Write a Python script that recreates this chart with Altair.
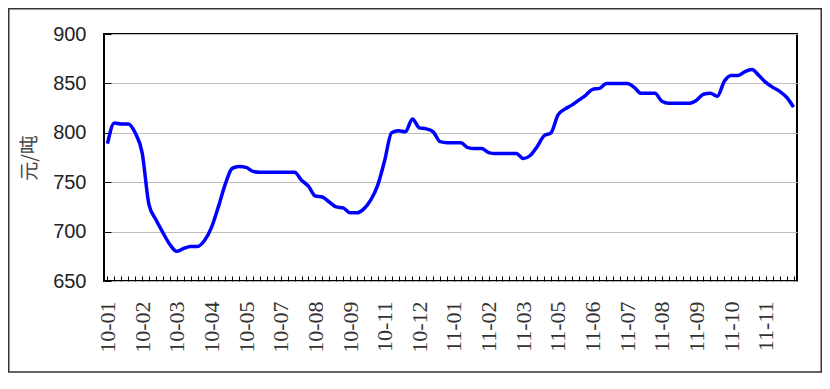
import altair as alt
import pandas as pd

# weekly prices, yuan/tonne (100 weeks, Jan 2010 - Dec 2011)
prices = [
    789, 810, 809, 809, 800, 780, 727, 712, 699, 687,
    680, 683, 685, 685, 691, 704, 725, 748, 764, 766,
    765, 761, 760, 760, 760, 760, 760, 760, 752, 746,
    736, 735, 730, 725, 724, 719, 719, 723, 732, 747,
    772, 800, 802, 801, 814, 805, 804, 801, 791, 790,
    790, 790, 785, 784, 784, 780, 779, 779, 779, 779,
    774, 777, 786, 797, 800, 818, 824, 828, 833, 838,
    844, 845, 850, 850, 850, 850, 846, 840, 840, 840,
    832, 830, 830, 830, 830, 833, 839, 840, 837, 852,
    858, 858, 862, 864, 858, 851, 846, 842, 836, 826,
]
tick_labels = ["10-01", "10-02", "10-03", "10-04", "10-05", "10-07", "10-08",
               "10-09", "10-11", "10-12", "11-01", "11-02", "11-03", "11-05",
               "11-06", "11-07", "11-08", "11-09", "11-10", "11-11"]
label_every = 5
y_ticks = [650, 700, 750, 800, 850, 900]

df = pd.DataFrame({"week": list(range(len(prices))), "price": prices})

W, H = 693, 247
arr = "[" + ",".join("'%s'" % s for s in tick_labels) + "]"
label_expr = f"datum.value % {label_every} == 0 ? {arr}[datum.value / {label_every}] : ''"

line = alt.Chart(df).mark_line(color="#0000FF", strokeWidth=3.5, interpolate="monotone").encode(
    x=alt.X("week:O",
            scale=alt.Scale(padding=0.5),
            axis=alt.Axis(title=None, labelExpr=label_expr, labelAngle=270,
                          labelFont="Times New Roman, Liberation Serif, serif",
                          labelFontSize=22,
                          labelColor="#333333", labelPadding=20,
                          offset=-5, tickSize=5, tickColor="#000000", tickWidth=1,
                          domain=False, grid=False, labelOverlap=False)),
    y=alt.Y("price:Q",
            scale=alt.Scale(domain=[650, 900], nice=False, zero=False),
            axis=alt.Axis(title="元/吨", values=y_ticks,
                          labelFont="Liberation Sans", labelFontSize=20,
                          labelColor="#222222", labelPadding=18,
                          titleFont="Noto Sans CJK SC", titleFontSize=19,
                          titleFontWeight="normal", titleColor="#444444",
                          titlePadding=13,
                          offset=-7, tickSize=7, tickColor="#000000",
                          domain=False, grid=True, gridColor="#BDBDBD",
                          gridWidth=1)),
)

frame = alt.Chart(alt.Data(values=[{"f": 1}])).mark_rect(
    fill=None, stroke="#333333", strokeWidth=1.5
).encode(
    x=alt.value(-95.25), x2=alt.value(W + 24.25),
    y=alt.value(-25.25), y2=alt.value(H + 91),
)

chart = alt.layer(line, frame).properties(
    width=W, height=H,
    autosize=alt.AutoSizeParams(type="none"),
    padding={"left": 96, "top": 26, "right": 25, "bottom": 92},
    background="white",
).configure_view(stroke="#000000", strokeWidth=2)

chart.save("out.html", embed_options={"renderer": "svg", "actions": False})
